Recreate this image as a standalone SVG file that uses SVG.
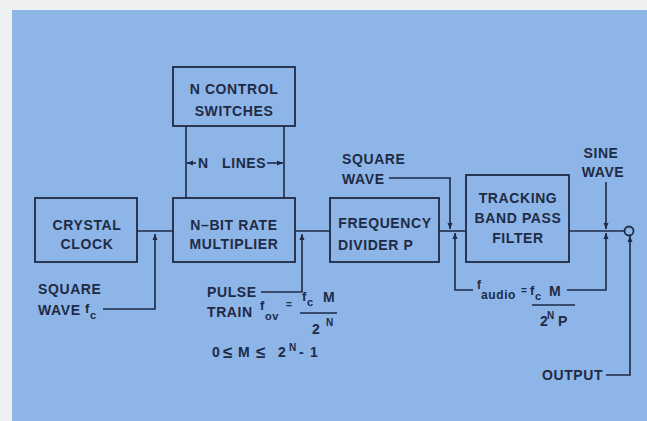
<svg xmlns="http://www.w3.org/2000/svg" width="647" height="421" viewBox="0 0 647 421">
<style>
.bg{fill:#8db5e8}
.box{fill:none;stroke:#1f2a44;stroke-width:1.8}
.ln{fill:none;stroke:#1f2a44;stroke-width:1.6}
text{font-family:"Liberation Sans",Arial,sans-serif;font-weight:bold;font-size:14px;fill:#1f2a44;letter-spacing:0.6px}
.c{text-anchor:middle}
.s{font-size:11px}
.sup{font-size:10px}
.le{font-size:17px}
</style>
<defs>
<marker id="ah" markerWidth="6" markerHeight="6" refX="6" refY="3" orient="auto" markerUnits="userSpaceOnUse">
<path d="M0,0.5 L6,3 L0,5.5 Z" fill="#1f2a44"/>
</marker>
</defs>
<rect x="0" y="0" width="647" height="421" fill="#eef0f2"/>
<rect class="bg" x="12" y="10" width="635" height="411"/>

<g id="switches">
<rect class="box" x="173" y="67" width="122" height="59"/>
<text class="c" x="234" y="94">N  CONTROL</text>
<text class="c" x="234" y="116">SWITCHES</text>
</g>
<g id="crystal">
<rect class="box" x="35" y="198" width="102" height="64"/>
<text class="c" x="87" y="230">CRYSTAL</text>
<text class="c" x="87" y="249">CLOCK</text>
</g>
<g id="multiplier">
<rect class="box" x="173" y="198" width="122" height="64"/>
<text class="c" x="234" y="230">N–BIT RATE</text>
<text class="c" x="234" y="249">MULTIPLIER</text>
</g>
<g id="divider">
<rect class="box" x="330" y="198" width="109" height="64"/>
<text class="c" x="385" y="228">FREQUENCY</text>
<text x="338" y="250">DIVIDER  P</text>
</g>
<g id="filter">
<rect class="box" x="466" y="175" width="103" height="87"/>
<text class="c" x="518" y="203">TRACKING</text>
<text class="c" x="518" y="223">BAND PASS</text>
<text class="c" x="518" y="243">FILTER</text>
</g>
<g id="output">
<circle cx="629" cy="231" r="4.5" fill="none" stroke="#1f2a44" stroke-width="1.8"/>
</g>

<g id="connectors">
<line class="ln" x1="186" y1="126" x2="186" y2="198"/>
<line class="ln" x1="284" y1="126" x2="284" y2="198"/>
<line class="ln" x1="196" y1="163" x2="187" y2="163" marker-end="url(#ah)"/>
<line class="ln" x1="267" y1="163" x2="283" y2="163" marker-end="url(#ah)"/>
<line class="ln" x1="137" y1="231" x2="173" y2="231"/>
<line class="ln" x1="295" y1="231" x2="330" y2="231"/>
<line class="ln" x1="439" y1="231" x2="466" y2="231"/>
<line class="ln" x1="569" y1="231" x2="624.5" y2="231"/>
<polyline class="ln" points="103,309 155,309 155,234" marker-end="url(#ah)"/>
<polyline class="ln" points="261,292 302,292 302,234" marker-end="url(#ah)"/>
<polyline class="ln" points="389,178 450,178 450,229" marker-end="url(#ah)"/>
<polyline class="ln" points="473,290 455,290 455,233" marker-end="url(#ah)"/>
<line class="ln" x1="606" y1="182" x2="606" y2="229" marker-end="url(#ah)"/>
<polyline class="ln" points="567,290 606,290 606,233" marker-end="url(#ah)"/>
<polyline class="ln" points="606,375 630,375 630,236" marker-end="url(#ah)"/>
<line class="ln" x1="300" y1="313" x2="337" y2="313"/>
<line class="ln" x1="532" y1="305" x2="575" y2="305"/>
</g>

<g id="labels">
<text x="198" y="168">N</text>
<text x="222" y="168">LINES</text>
<text x="38" y="294">SQUARE</text>
<text x="38" y="315">WAVE</text>
<text x="85" y="313" style="font-size:13px">f</text>
<text class="s" x="90" y="319">c</text>
<text x="207" y="297">PULSE</text>
<text x="207" y="317">TRAIN</text>
<text x="260" y="310" style="font-size:13px">f</text>
<text class="s" x="265" y="320">ov</text>
<text class="sup" x="286" y="308">=</text>
<text x="302" y="301" style="font-size:13px">f</text>
<text class="s" x="307" y="306">c</text>
<text x="323" y="302">M</text>
<text x="312" y="334">2</text>
<text class="sup" x="326" y="326">N</text>
<text x="212" y="357">0</text>
<text class="le" x="223" y="358">≤</text>
<text x="238" y="357">M</text>
<text class="le" x="256" y="358">≤</text>
<text x="278" y="357">2</text>
<text class="sup" x="289" y="351">N</text>
<text x="299" y="357">-</text>
<text x="310" y="357">1</text>
<text x="342" y="164">SQUARE</text>
<text x="342" y="184">WAVE</text>
<text class="c" x="601" y="158">SINE</text>
<text class="c" x="603" y="177">WAVE</text>
<text x="477" y="289" style="font-size:12px">f</text>
<text x="481" y="299" style="font-size:12px">audio</text>
<text class="sup" x="521" y="294">=</text>
<text x="530" y="295" style="font-size:13px">f</text>
<text class="s" x="535" y="300">c</text>
<text x="549" y="296">M</text>
<text x="540" y="326">2</text>
<text class="sup" x="547" y="319">N</text>
<text x="558" y="326">P</text>
<text x="542" y="380">OUTPUT</text>
</g>
</svg>
